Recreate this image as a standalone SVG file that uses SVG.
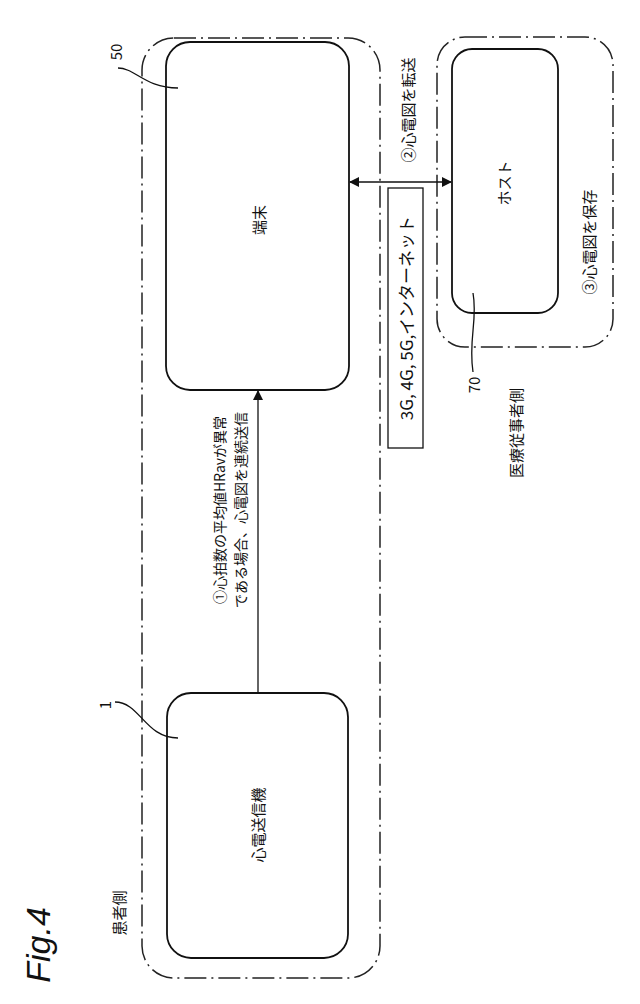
<svg xmlns="http://www.w3.org/2000/svg" width="640" height="1004" viewBox="0 0 640 1004">
<style>
.g{fill:none;stroke:#222;stroke-width:1.5;stroke-dasharray:22 5 2 5}
.n{fill:#fff;stroke:#111;stroke-width:1.8}
.t{font-family:"Noto Sans CJK JP","Liberation Sans",sans-serif;font-size:15px;fill:#111;text-anchor:middle;dominant-baseline:central}
.l{fill:none;stroke:#111;stroke-width:1.3}
</style>
<defs><marker id="a" markerWidth="10" markerHeight="10" refX="9" refY="5" orient="auto-start-reverse" markerUnits="userSpaceOnUse"><path d="M0,0 L10,5 L0,10 Z" fill="#111"/></marker></defs>
<rect fill="#fff" width="640" height="1004"/>
<text class="t" transform="translate(38,945) rotate(-90)" style="font-size:34px;font-style:italic;font-family:'Liberation Sans',sans-serif">Fig.4</text>
<g id="patient"><rect class="g" x="142" y="38" width="238" height="940" rx="32"/><text class="t" transform="translate(118,913) rotate(-90)">患者側</text></g>
<g id="medical"><rect class="g" x="437" y="37" width="176" height="310" rx="28"/><text class="t" transform="translate(515,433) rotate(-90)">医療従事者側</text><text class="t" transform="translate(588,242) rotate(-90)">③心電図を保存</text></g>
<g id="n50"><rect class="n" x="166" y="42" width="183" height="348" rx="24"/><text class="t" transform="translate(258,220) rotate(-90)">端末</text><text class="t" transform="translate(115,52) rotate(-90)">50</text><path class="l" d="M118,68 C135,68 145,88 178,88"/></g>
<g id="n1"><rect class="n" x="167" y="693" width="181" height="265" rx="24"/><text class="t" transform="translate(257,825) rotate(-90)">心電送信機</text><text class="t" transform="translate(104,705) rotate(-90)">1</text><path class="l" d="M115,702 C140,702 145,738 178,738"/></g>
<g id="n70"><rect class="n" x="452" y="49" width="106" height="264" rx="20"/><text class="t" transform="translate(503,183) rotate(-90)">ホスト</text><text class="t" transform="translate(473,385) rotate(-90)">70</text><path class="l" d="M473,372 C468,340 478,320 473,293"/></g>
<g id="connectors">
<line class="l" x1="258" y1="693" x2="258" y2="391" marker-end="url(#a)"/>
<text class="t" transform="translate(219,510) rotate(-90)" style="font-size:14px">①心拍数の平均値HRavが異常</text>
<text class="t" transform="translate(240,510) rotate(-90)" style="font-size:14px">である場合、心電図を連続送信</text>
<line class="l" x1="350" y1="182" x2="451" y2="182" marker-start="url(#a)" marker-end="url(#a)"/>
<text class="t" transform="translate(407,110) rotate(-90)">②心電図を転送</text>
<rect x="388" y="188" width="35" height="260" fill="#fff" stroke="#111" stroke-width="1.3"/>
<text class="t" transform="translate(405,318) rotate(-90)" style="font-size:17px">3G, 4G, 5G,インターネット</text>
</g>
</svg>
